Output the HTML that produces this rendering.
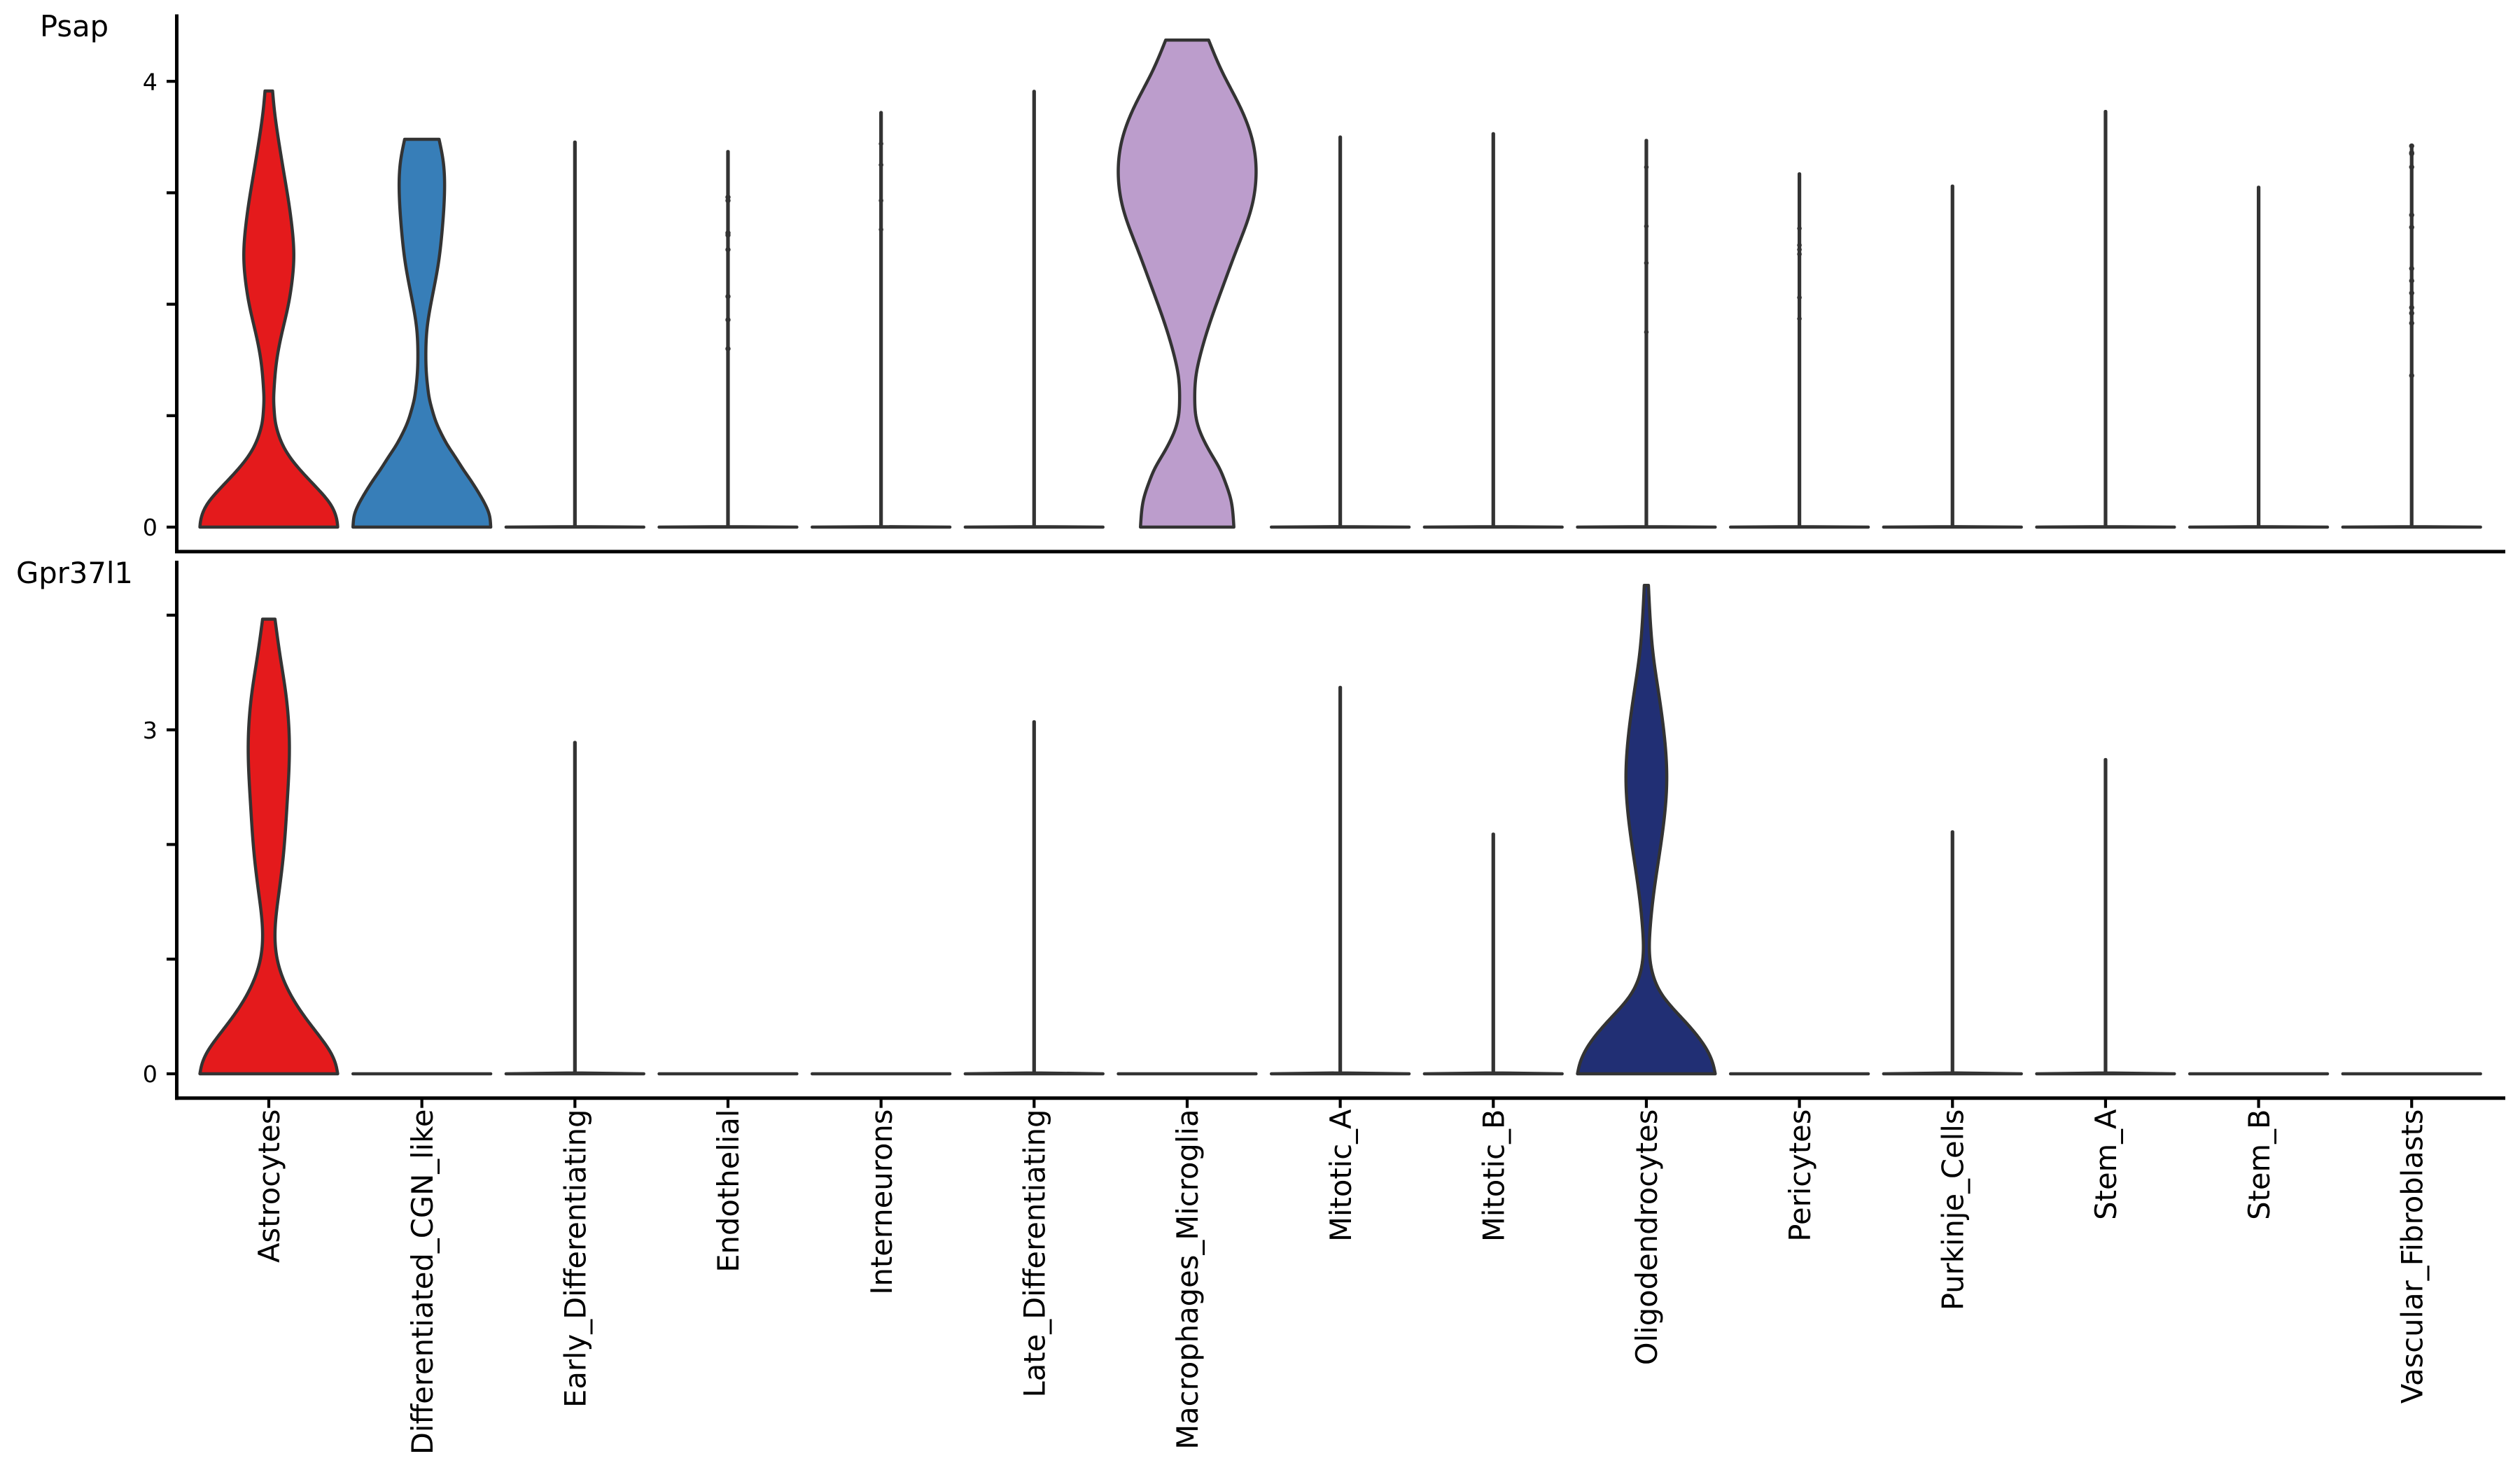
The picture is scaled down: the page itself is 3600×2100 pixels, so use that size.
<!DOCTYPE html>
<html lang="en">
<head>
<meta charset="utf-8">
<title>Stacked violin plot of Psap and Gpr37l1</title>
<style>
html,body{margin:0;padding:0;background:#fff;}
svg{display:block;}
text{font-family:"DejaVu Sans","Liberation Sans",sans-serif;fill:#000;}
</style>
</head>
<body>
<svg id="chart" xmlns="http://www.w3.org/2000/svg" width="3600" height="2100" viewBox="0 0 3600 2100"></svg>
<script>
const categories = ["Astrocytes","Differentiated_CGN_like","Early_Differentiating","Endothelial","Interneurons","Late_Differentiating","Macrophages_Microglia","Mitotic_A","Mitotic_B","Oligodendrocytes","Pericytes","Purkinje_Cells","Stem_A","Stem_B","Vascular_Fibroblasts"];

// Maximum expression of the thin (almost all zero) violins, per category. null = full violin below.
const psapPeaks = [null,null,3.465,3.38,3.73,3.92,null,3.51,3.54,3.48,3.18,3.07,3.74,3.06,3.42];
const gprPeaks = [null,0,2.90,0,0,3.08,0,3.38,2.10,null,0,2.12,2.75,0,0];

// Full violins: expression levels and relative density (1 = widest possible).
const psapAstrocytesValues = [0,0.03,0.103,0.207,0.312,0.417,0.521,0.626,0.731,0.835,0.94,1.045,1.15,1.254,1.464,1.67,1.78,2.0,2.17,2.44,2.7,2.95,3.13,3.45,3.77,3.913];
const psapAstrocytesDensity = [1,0.996,0.972,0.893,0.757,0.598,0.444,0.309,0.207,0.139,0.096,0.078,0.071,0.078,0.108,0.165,0.205,0.285,0.33,0.363,0.335,0.28,0.232,0.147,0.076,0.055];
const psapDifferentiatedValues = [0,0.03,0.103,0.207,0.312,0.417,0.521,0.626,0.731,0.835,0.94,1.045,1.15,1.254,1.36,1.57,1.78,2.0,2.36,2.68,2.99,3.29,3.48];
const psapDifferentiatedDensity = [1,0.997,0.982,0.916,0.82,0.712,0.597,0.488,0.377,0.285,0.208,0.153,0.11,0.085,0.068,0.058,0.075,0.13,0.238,0.297,0.328,0.308,0.25];
const psapMacrophagesValues = [0,0.115,0.244,0.4,0.532,0.65,0.788,0.885,1.0,1.14,1.365,1.53,1.85,2.17,2.49,2.87,3.16,3.45,3.77,4.09,4.37];
const psapMacrophagesDensity = [0.678,0.665,0.635,0.555,0.465,0.355,0.235,0.17,0.125,0.11,0.13,0.185,0.339,0.525,0.718,0.935,1,0.955,0.769,0.505,0.312];
const gprAstrocytesValues = [0,0.07,0.2,0.3,0.45,0.61,0.77,1.0,1.19,1.57,1.89,2.37,2.85,3.33,3.65,3.965];
const gprAstrocytesDensity = [1,0.977,0.884,0.77,0.58,0.395,0.25,0.122,0.09,0.145,0.209,0.267,0.299,0.244,0.163,0.09];
const gprOligodendrocytesValues = [0,0.08,0.2,0.45,0.68,0.87,1.06,1.25,1.57,1.89,2.21,2.56,3.01,3.33,3.65,3.96,4.26];
const gprOligodendrocytesDensity = [1,0.97,0.887,0.571,0.239,0.093,0.045,0.053,0.106,0.183,0.256,0.296,0.249,0.176,0.1,0.056,0.03];

// Outlier points drawn over the thin violins.
const psapEndothelialOutliers = [2.96,2.93,2.64,2.62,2.49,2.07,1.86,1.60];
const psapInterneuronsOutliers = [3.44,3.25,2.93,2.67];
const psapOligodendrocytesOutliers = [3.23,2.70,2.37,1.75];
const psapPericytesOutliers = [2.68,2.53,2.49,2.45,2.06,1.87];
const psapVascularOutliers = [3.42,3.36,3.35,3.23,2.80,2.69,2.32,2.21,2.10,1.97,1.92,1.83,1.36];

const psapTicks = [0,1,2,3,4];
const psapTickLabels = ["0","","","","4"];
const gprTicks = [0,1,2,3,4];
const gprTickLabels = ["0","","","3",""];

const colorRed = "#e41a1c";
const colorBlue = "#377eb8";
const colorPurple = "#bc9dcc";
const colorNavy = "#212f74";

const svg = document.getElementById('chart');
const NS = 'http://www.w3.org/2000/svg';
const INK = '#333333';
const STROKE = 4.5;

function make(tag, parent, props) {
  const el = document.createElementNS(NS, tag);
  for (const k in props) el.setAttribute(k, props[k]);
  parent.appendChild(el);
  return el;
}

// Axis functions
const xCenter = function (i) { return 384 + i * 218.66; };
const HALF_WIDTH = 98.4;
const yPsap = function (v) { return 753 - v * 159.2; };
const yGpr = function (v) { return 1534 - v * 163.8; };

// Natural cubic spline of density over expression value.
function densityCurve(xs, ys) {
  const n = xs.length;
  const a = new Array(n).fill(0), b = new Array(n).fill(1), c = new Array(n).fill(0), d = new Array(n).fill(0);
  for (let i = 1; i < n - 1; i++) {
    const h0 = xs[i] - xs[i - 1], h1 = xs[i + 1] - xs[i];
    a[i] = h0;
    b[i] = 2 * (h0 + h1);
    c[i] = h1;
    d[i] = 6 * ((ys[i + 1] - ys[i]) / h1 - (ys[i] - ys[i - 1]) / h0);
  }
  for (let i = 1; i < n; i++) {
    const m = a[i] / b[i - 1];
    b[i] -= m * c[i - 1];
    d[i] -= m * d[i - 1];
  }
  const m2 = new Array(n).fill(0);
  m2[n - 1] = d[n - 1] / b[n - 1];
  for (let i = n - 2; i >= 0; i--) m2[i] = (d[i] - c[i] * m2[i + 1]) / b[i];
  return function (x) {
    let k = 0;
    while (k < n - 2 && x > xs[k + 1]) k++;
    const h = xs[k + 1] - xs[k], t0 = (xs[k + 1] - x) / h, t1 = (x - xs[k]) / h;
    return t0 * ys[k] + t1 * ys[k + 1] + ((t0 * t0 * t0 - t0) * m2[k] + (t1 * t1 * t1 - t1) * m2[k + 1]) * h * h / 6;
  };
}

function violinPath(cx, yScale, values, density) {
  const curve = densityCurve(values, density);
  const vMax = values[values.length - 1];
  const steps = 240;
  const right = [], left = [];
  for (let i = 0; i <= steps; i++) {
    const v = vMax * i / steps;
    const w = Math.max(curve(v), 0) * HALF_WIDTH;
    const y = yScale(v).toFixed(2);
    right.push((cx + w).toFixed(2) + ' ' + y);
    left.unshift((cx - w).toFixed(2) + ' ' + y);
  }
  return 'M' + right.join(' L') + ' L' + left.join(' L') + ' Z';
}

function thinPath(cx, yScale, peak, bump) {
  const y0 = yScale(0);
  if (peak <= 0) {
    return 'M' + (cx - HALF_WIDTH).toFixed(2) + ' ' + y0 + ' L' + (cx + HALF_WIDTH).toFixed(2) + ' ' + y0;
  }
  const yb = yScale(bump), yt = yScale(peak) + 1.6, s = 0.35;
  return 'M' + (cx - HALF_WIDTH).toFixed(2) + ' ' + y0 +
    ' L' + (cx - s).toFixed(2) + ' ' + yb.toFixed(2) +
    ' L' + (cx - s).toFixed(2) + ' ' + yt.toFixed(2) +
    ' L' + (cx + s).toFixed(2) + ' ' + yt.toFixed(2) +
    ' L' + (cx + s).toFixed(2) + ' ' + yb.toFixed(2) +
    ' L' + (cx + HALF_WIDTH).toFixed(2) + ' ' + y0 + ' Z';
}

const panels = [
  { key: 'psap', gene: 'Psap', yScale: yPsap, peaks: psapPeaks, ticks: psapTicks, tickLabels: psapTickLabels,
    top: 20.5, bottom: 788, labelX: 57, labelY: 52, bump: 0.004,
    full: [
      { index: 0, values: psapAstrocytesValues, density: psapAstrocytesDensity, color: colorRed },
      { index: 1, values: psapDifferentiatedValues, density: psapDifferentiatedDensity, color: colorBlue },
      { index: 6, values: psapMacrophagesValues, density: psapMacrophagesDensity, color: colorPurple }
    ],
    outliers: [
      { index: 3, values: psapEndothelialOutliers, r: 3.7 },
      { index: 4, values: psapInterneuronsOutliers, r: 3.3 },
      { index: 9, values: psapOligodendrocytesOutliers, r: 3.3 },
      { index: 10, values: psapPericytesOutliers, r: 3.3 },
      { index: 14, values: psapVascularOutliers, r: 3.7 }
    ] },
  { key: 'gpr37l1', gene: 'Gpr37l1', yScale: yGpr, peaks: gprPeaks, ticks: gprTicks, tickLabels: gprTickLabels,
    top: 801, bottom: 1568.8, labelX: 23, labelY: 833, bump: 0.008,
    full: [
      { index: 0, values: gprAstrocytesValues, density: gprAstrocytesDensity, color: colorRed },
      { index: 9, values: gprOligodendrocytesValues, density: gprOligodendrocytesDensity, color: colorNavy }
    ],
    outliers: [] }
];

const AXIS_LEFT = 252.5, AXIS_RIGHT = 3579;

panels.forEach(function (p) {
  const g = make('g', svg, {});
  
  

  const label = make('text', g, { x: p.labelX, y: p.labelY, 'font-size': 41.67 });
  label.textContent = p.gene;
  
  

  // thin violins
  p.peaks.forEach(function (peak, i) {
    if (peak === null) return;
    const path = make('path', g, { d: thinPath(xCenter(i), p.yScale, peak, p.bump), fill: INK, stroke: INK, 'stroke-width': STROKE, 'stroke-linejoin': 'round', 'stroke-linecap': 'round' });
    
    
  });

  // full violins
  p.full.forEach(function (v) {
    const path = make('path', g, { d: violinPath(xCenter(v.index), p.yScale, v.values, v.density), fill: v.color, stroke: INK, 'stroke-width': STROKE, 'stroke-linejoin': 'round' });
    
    
  });

  // outliers
  p.outliers.forEach(function (o) {
    o.values.forEach(function (val) {
      const dot = make('circle', g, { cx: xCenter(o.index), cy: p.yScale(val), r: o.r, fill: INK });
      
      
    });
  });

  // y ticks
  p.ticks.forEach(function (t, i) {
    const y = p.yScale(t);
    const tick = make('line', g, { x1: 238, x2: AXIS_LEFT, y1: y, y2: y, stroke: '#000', 'stroke-width': 4.2 });
    
    
    if (p.tickLabels[i]) {
      const tl = make('text', g, { x: 225, y: y + 12.2, 'font-size': 33.33, 'text-anchor': 'end' });
      tl.textContent = p.tickLabels[i];
      
      
    }
  });

  // spines
  const ySpine = make('line', g, { x1: AXIS_LEFT, x2: AXIS_LEFT, y1: p.top, y2: p.bottom + 2.5, stroke: '#000', 'stroke-width': 5 });
  
  
  const xSpine = make('line', g, { x1: AXIS_LEFT - 2.5, x2: AXIS_RIGHT, y1: p.bottom, y2: p.bottom, stroke: '#000', 'stroke-width': 5 });
  
  
});

// x ticks and labels on the bottom panel
const xAxisGroup = make('g', svg, {});


categories.forEach(function (name, i) {
  const x = xCenter(i);
  const tick = make('line', xAxisGroup, { x1: x, x2: x, y1: 1568.8, y2: 1582.7, stroke: '#000', 'stroke-width': 4.2 });
  
  
  const tx = x + 15.2, ty = 1584.5;
  const label = make('text', xAxisGroup, { x: tx, y: ty, 'font-size': 41.67, 'text-anchor': 'end', transform: 'rotate(-90 ' + tx + ' ' + ty + ')' });
  label.textContent = name;
  
  
});
</script>
</body>
</html>
